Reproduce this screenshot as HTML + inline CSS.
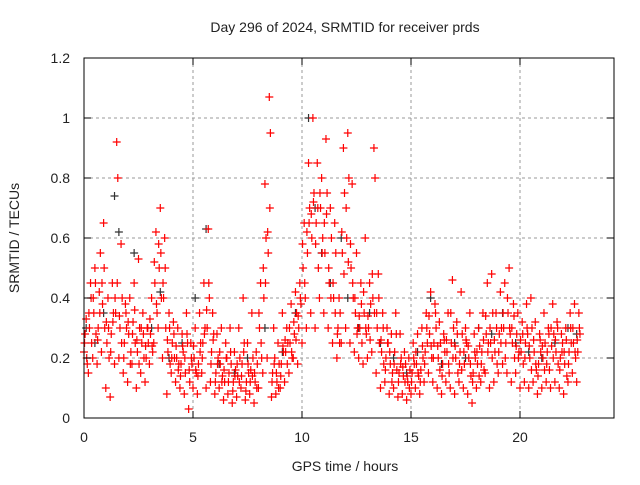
<!DOCTYPE html>
<html><head><meta charset="utf-8"><style>
body{margin:0;background:#fff;}
svg text{font-family:"Liberation Sans",sans-serif;font-size:14px;fill:#222;}
</style></head><body>
<svg id="chart" width="640" height="480" xmlns="http://www.w3.org/2000/svg">
<text x="345" y="32" text-anchor="middle">Day 296 of 2024, SRMTID for receiver prds</text>
<text x="345" y="471" text-anchor="middle">GPS time / hours</text>
<text x="19" y="238" text-anchor="middle" transform="rotate(-90 19 238)">SRMTID / TECUs</text>
<g id="grid"></g><g id="black"></g><g id="red"></g><g id="axes"></g>
</svg>
<script>
const xTicks=[0,5,10,15,20];
const yTicks=[0,0.2,0.4,0.6,0.8,1,1.2];
const yTickLabels=["0","0.2","0.4","0.6","0.8","1","1.2"];
const hours=[0,0.2,0.4,0.6,0.8,1,1.2,1.4,1.6,1.8,2,2.2,2.4,2.6,2.8,3,3.2,3.4,3.6,3.8,4,4.2,4.4,4.6,4.8,5,5.2,5.4,5.6,5.8,6,6.2,6.4,6.6,6.8,7,7.2,7.4,7.6,7.8,8,8.2,8.4,8.6,8.8,9,9.2,9.4,9.6,9.8,10,10.2,10.4,10.6,10.8,11,11.2,11.4,11.6,11.8,12,12.2,12.4,12.6,12.8,13,13.2,13.4,13.6,13.8,14,14.2,14.4,14.6,14.8,15,15.2,15.4,15.6,15.8,16,16.2,16.4,16.6,16.8,17,17.2,17.4,17.6,17.8,18,18.2,18.4,18.6,18.8,19,19.2,19.4,19.6,19.8,20,20.2,20.4,20.6,20.8,21,21.2,21.4,21.6,21.8,22,22.2,22.4,22.6];
const redLow=[.22,.15,.20,.18,.22,.10,.07,.18,.20,.15,.12,.18,.10,.15,.12,.18,.25,.30,.20,.08,.15,.12,.10,.08,.03,.10,.08,.15,.10,.12,.08,.10,.06,.08,.05,.07,.10,.06,.08,.05,.10,.15,.20,.07,.08,.10,.12,.15,.20,.18,.25,.30,.35,.30,.40,.35,.30,.25,.20,.25,.30,.25,.22,.20,.18,.20,.22,.15,.10,.12,.08,.10,.07,.08,.06,.08,.10,.08,.12,.15,.12,.10,.08,.12,.10,.08,.12,.10,.08,.05,.10,.12,.15,.10,.12,.15,.18,.15,.12,.15,.10,.12,.10,.12,.08,.10,.12,.10,.12,.10,.08,.12,.15,.12];
const redMid=[.28,.30,.35,.30,.38,.25,.28,.35,.30,.25,.28,.32,.22,.25,.20,.28,.45,.50,.40,.22,.25,.20,.18,.15,.12,.20,.18,.25,.30,.22,.15,.18,.12,.15,.12,.14,.18,.12,.16,.12,.30,.40,.55,.15,.12,.18,.22,.25,.28,.30,.50,.55,.60,.65,.70,.55,.45,.40,.30,.55,.60,.50,.35,.30,.35,.30,.40,.30,.22,.20,.18,.22,.15,.14,.12,.15,.18,.16,.22,.28,.25,.20,.18,.22,.25,.20,.22,.18,.20,.15,.18,.22,.28,.25,.22,.28,.30,.35,.25,.28,.22,.25,.20,.22,.18,.20,.22,.24,.22,.20,.18,.22,.25,.22];
const redHigh=[.33,.45,.50,.42,.65,.40,.45,.92,.58,.38,.40,.45,.53,.35,.30,.40,.62,.70,.60,.35,.32,.30,.28,.35,.25,.30,.35,.45,.63,.35,.28,.30,.25,.30,.22,.30,.40,.25,.35,.22,.45,.78,1.07,.30,.25,.35,.30,.38,.42,.45,.65,.85,1.0,.85,.80,.93,.70,.65,.40,.90,.95,.78,.55,.45,.60,.45,.90,.48,.35,.30,.28,.35,.28,.22,.20,.25,.28,.30,.35,.42,.38,.32,.28,.35,.46,.32,.42,.30,.35,.28,.30,.35,.45,.48,.35,.42,.45,.50,.38,.35,.32,.38,.40,.32,.28,.35,.30,.38,.32,.28,.30,.35,.38,.35];
const redExtra=[.18,.25,.28,.55,.30,.20,.35,.80,.40,.30,.22,.25,.30,.20,.25,.22,.35,.40,.30,.18,.20,.18,.22,.25,.18,.15,.25,.30,.40,.28,.20,.14,.20,.18,.16,.20,.25,.15,.20,.18,.20,.60,.95,.20,.18,.22,.25,.20,.35,.38,.40,.70,.75,.50,.60,.75,.60,.55,.35,.75,.80,.40,.30,.25,.28,.38,.80,.25,.18,.25,.15,.16,.20,.18,.16,.18,.14,.20,.25,.20,.30,.25,.22,.15,.30,.15,.28,.25,.14,.20,.24,.16,.25,.35,.18,.30,.25,.28,.20,.22,.18,.28,.30,.16,.22,.25,.16,.28,.18,.25,.14,.25,.20,.28];
const redBand1=[.25,.35,.40,.26,.45,.32,.22,.40,.34,.20,.32,.28,.26,.30,.24,.33,.52,.58,.45,.26,.20,.24,.14,.20,.16,.24,.14,.20,.36,.18,.12,.22,.16,.12,.09,.18,.14,.09,.12,.15,.35,.50,.62,.12,.15,.14,.26,.30,.32,.34,.58,.62,.68,.58,.75,.65,.50,.45,.28,.62,.70,.58,.40,.34,.42,.34,.48,.35,.26,.16,.22,.18,.12,.17,.14,.12,.22,.12,.18,.34,.20,.24,.14,.26,.35,.24,.18,.22,.24,.12,.22,.18,.34,.30,.26,.22,.35,.40,.30,.24,.26,.20,.24,.26,.14,.24,.18,.30,.26,.16,.22,.18,.30,.26];
const redBand2=[.20,.40,.45,.35,.50,.30,.32,.45,.25,.35,.18,.36,.18,.28,.30,.24,.38,.55,.50,.30,.28,.16,.24,.28,.20,.16,.22,.28,.45,.26,.18,.12,.20,.22,.14,.12,.22,.18,.14,.10,.25,.45,.70,.18,.10,.24,.18,.22,.26,.40,.45,.65,.72,.70,.55,.68,.40,.35,.25,.48,.52,.45,.28,.38,.30,.26,.35,.40,.30,.25,.12,.28,.18,.12,.10,.20,.15,.24,.30,.24,.35,.16,.26,.18,.20,.28,.16,.26,.18,.22,.14,.26,.22,.20,.30,.25,.20,.30,.34,.20,.28,.30,.16,.18,.26,.16,.28,.20,.30,.22,.26,.30,.22,.30];
const layerShift=[0,0.05,0.1,0.15,0.025,0.125];
const blackTimes=[0.1,0.5,0.9,1.4,1.6,2.3,3.1,3.5,3.9,4.5,5.1,5.6,6.2,6.9,7.5,8.3,9.1,9.7,10.3,10.6,10.9,11.3,11.8,12.1,12.6,13.1,13.6,14.2,14.8,15.3,15.9,16.4,17.0,17.5,18.1,18.7,19.2,19.8,20.4,21.0,21.6,22.2,22.6];
const blackVals=[.30,.25,.35,.74,.62,.55,.30,.42,.20,.25,.40,.63,.18,.15,.20,.30,.22,.35,1.0,.70,.55,.45,.60,.40,.30,.35,.25,.20,.15,.22,.40,.18,.25,.20,.30,.28,.35,.25,.22,.20,.25,.30,.28];
const X=t=>84+t*(436/20), Y=v=>418-v*300;
const NS="http://www.w3.org/2000/svg";
function mk(tag,attrs,parent){const e=document.createElementNS(NS,tag);for(const k in attrs)e.setAttribute(k,attrs[k]);parent.appendChild(e);return e;}
const grid=document.getElementById('grid'),axes=document.getElementById('axes');
xTicks.forEach(t=>{
  if(t>0){const g=mk('line',{x1:X(t),x2:X(t),y1:58,y2:418,stroke:'#999','stroke-dasharray':'3,3'},grid);
  
  }
  const tk=mk('path',{d:`M${X(t)} 418v-7M${X(t)} 58v7`,stroke:'#000'},axes);
  
  
  const l=mk('text',{x:X(t),y:442,'text-anchor':'middle'},axes);l.textContent=t;
  
  
});
yTicks.forEach((v,i)=>{
  if(v>0&&v<1.2){const g=mk('line',{x1:84,x2:614,y1:Y(v),y2:Y(v),stroke:'#999','stroke-dasharray':'3,3'},grid);
  
  }
  const tk=mk('path',{d:`M84 ${Y(v)}h7M614 ${Y(v)}h-7`,stroke:'#000'},axes);
  
  
  const l=mk('text',{x:70,y:Y(v)+5,'text-anchor':'end'},axes);l.textContent=yTickLabels[i];
  
  
});
const fr=mk('rect',{x:84,y:58,width:530,height:360,fill:'none',stroke:'#000'},axes);


function plus(t,v,col,parent,name){
  const p=mk('path',{d:`M${X(t)-4} ${Y(v)}h8M${X(t)} ${Y(v)-4}v8`,stroke:col,'stroke-width':1.2},parent);
  
  
}
const bg=document.getElementById('black');
blackTimes.forEach((t,i)=>plus(t,blackVals[i],'#333',bg,'black-point'));
const rg=document.getElementById('red');
[redLow,redMid,redHigh,redExtra,redBand1,redBand2].forEach((arr,k)=>arr.forEach((v,i)=>plus(hours[i]+layerShift[k],v,'#f00',rg,'red-point')));
</script>
</body></html>
